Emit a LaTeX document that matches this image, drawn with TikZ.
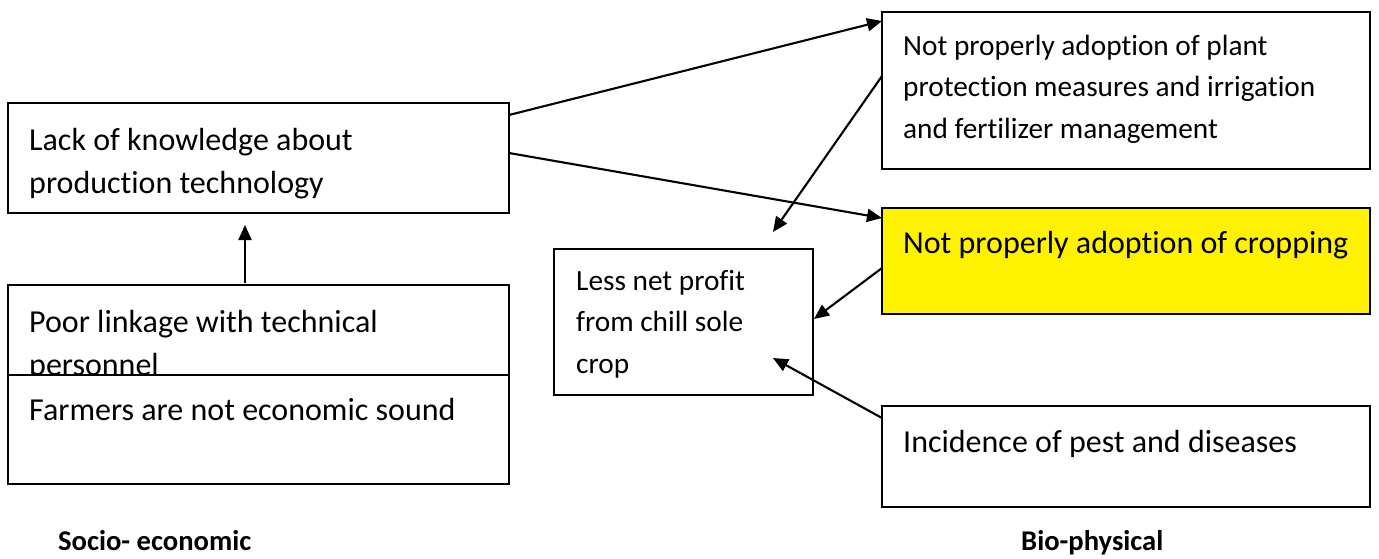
\documentclass[tikz,border=0pt]{standalone}
\usepackage{fontspec}
\setmainfont{Carlito}[Ligatures=NoCommon]
\usetikzlibrary{arrows.meta,calc}
\begin{document}
\begin{tikzpicture}[x=1pt,y=-1pt,
  box/.style={draw, line width=2pt, fill=white, rectangle, inner sep=0pt, outer sep=0pt, anchor=north west},
  % multi-line texts are placed by the baseline of their last line
  big/.style={font=\fontsize{32}{43}\selectfont, anchor=base west, inner sep=0pt, align=left},
  small/.style={font=\fontsize{29.3}{41.5}\selectfont, anchor=base west, inner sep=0pt, align=left},
  caption/.style={font=\bfseries\fontsize{28.6}{34}\selectfont, anchor=base west, inner sep=0pt},
  arr/.style={line width=2.1pt, -{Triangle[length=15pt,width=13pt]}}]
\useasboundingbox (0,0) rectangle (1379,558);

% left column
\node[box, minimum width=501pt, minimum height=110pt] (lack) at (8,103) {};
\node[big] (lacktxt) at (29,193) {Lack of knowledge about\\production technology};
\node[box, minimum width=501pt, minimum height=150pt] (poor) at (8,285) {};
\node[big] (poortxt) at (29,375) {Poor linkage with technical\\personnel};
\node[box, minimum width=501pt, minimum height=109pt] (farm) at (8,375) {};
\node[big] (farmtxt) at (29,420) {Farmers are not economic sound};

% centre
\node[box, minimum width=259pt, minimum height=146pt] (profit) at (554,249) {};
\node[small] (profittxt) at (576,373) {Less net profit\\from chill sole\\crop};

% right column
\node[box, minimum width=488pt, minimum height=157pt] (plant) at (882,12) {};
\node[small] (planttxt) at (903,138) {Not properly adoption of plant\\protection measures and irrigation\\and fertilizer management};
\node[box, fill=yellow, minimum width=488pt, minimum height=106pt] (crop) at (882,208) {};
\node[big] (croptxt) at (903,253) {Not properly adoption of cropping};
\node[box, minimum width=488pt, minimum height=101pt] (incid) at (882,406) {};
\node[big] (incidtxt) at (903,452) {Incidence of pest and diseases};

% captions
\node[caption] (socio) at (58,550) {Socio- economic};
\node[caption] (bio) at (1021,550) {Bio-physical};

% free arrow ends
\coordinate (poortop) at ($(poor.north west)+(237,-2)$);
\coordinate (lackbot) at ($(lack.south west)+(237,12)$);
\coordinate (profittop) at (773,232);
\coordinate (profitin) at (773,358);

% connectors
\draw[arr] (poortop) -- (lackbot);
\draw[arr] ($(lack.north east)+(0,12)$) -- ($(plant.north west)+(0,9)$);
\draw[arr] ($(lack.north east)+(0,50)$) -- ($(crop.north west)+(0,10)$);
\draw[arr] ($(plant.north west)+(0,64)$) -- (profittop);
\draw[arr] ($(crop.north west)+(0,60)$) -- ($(profit.north east)+(1,70)$);
\draw[arr] ($(incid.north west)+(0,12)$) -- (profitin);
\end{tikzpicture}
\end{document}
